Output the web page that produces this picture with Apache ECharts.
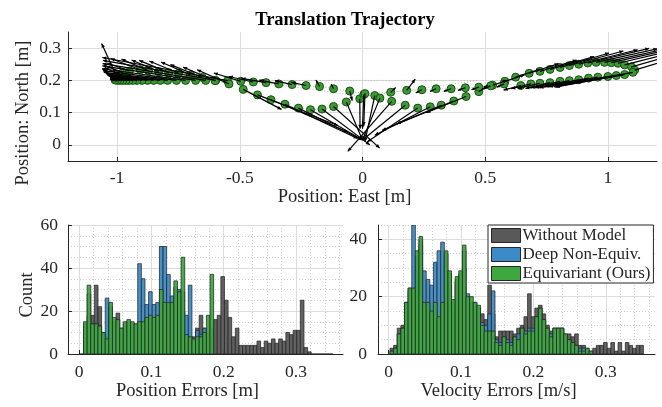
<!DOCTYPE html>
<html><head><meta charset="utf-8">
<script src="https://cdn.jsdelivr.net/npm/echarts@6/dist/echarts.min.js"></script>
<style>html,body{margin:0;padding:0;background:#fff}#c{width:662px;height:407px}</style>
</head><body><div id="c"></div>
<script>
// ---------- Trajectory (top) ----------
const trajEast = [
 -0.486,-0.428,-0.373,-0.316,-0.261,-0.212,-0.165,-0.118,-0.066,-0.011,0.005,0.050,0.071,0.119,0.174,0.225,0.276,0.321,0.372,0.422,0.474,
 0.530,0.580,0.624,0.679,0.723,0.764,0.805,0.843,0.881,0.918,0.952,0.986,1.014,1.041,1.068,1.096,1.109,
 1.102,1.068,1.034,1.000,0.959,0.921,0.881,0.843,0.805,0.764,0.723,0.686,0.645,
 0.577,0.522,0.474,0.419,0.361,0.300,0.242,0.180,0.115,0.010,-0.052,-0.118,-0.175,-0.230,-0.287,-0.341,-0.393,-0.445,-0.496,
 -0.550,-0.598,-0.639,-0.680,-0.721,-0.758,-0.794,-0.824,-0.851,-0.876,-0.899,-0.919,-0.936,-0.951,-0.964,-0.977,-0.988,-0.999,-1.008,
 -1.010,-1.003,-0.990,-0.975,-0.950,-0.906,-0.872,-0.831,-0.790,-0.749,-0.701,-0.653,-0.601,-0.544
];
const trajNorth = [
 0.172,0.155,0.140,0.126,0.114,0.109,0.111,0.119,0.133,0.143,0.156,0.153,0.145,0.135,0.123,0.114,0.118,0.123,0.136,0.150,0.165,
 0.185,0.197,0.210,0.222,0.228,0.234,0.240,0.246,0.250,0.254,0.256,0.256,0.255,0.253,0.248,0.242,0.232,
 0.225,0.218,0.215,0.212,0.210,0.207,0.202,0.199,0.197,0.193,0.191,0.189,0.184,
 0.189,0.183,0.179,0.177,0.174,0.174,0.171,0.169,0.163,0.159,0.167,0.174,0.181,0.184,0.187,0.189,0.193,0.195,0.197,
 0.199,0.200,0.200,0.200,0.200,0.200,0.200,0.200,0.200,0.200,0.200,0.200,0.200,0.200,0.200,0.200,0.200,0.200,0.201,
 0.207,0.214,0.219,0.224,0.229,0.233,0.230,0.227,0.224,0.222,0.217,0.209,0.199,0.189
];
const arrowEast = [
 0.156,0.328,0.313,0.296,0.261,0.212,0.195,0.188,0.066,0.001,-0.005,-0.040,-0.071,-0.179,-0.174,-0.205,-0.226,-0.241,-0.232,-0.162,0.036,
 0.06,0.08,0.10,0.12,0.15,0.18,0.20,0.22,0.24,0.25,0.25,0.24,0.22,0.20,0.18,0.15,0.13,
 -0.30,-0.28,-0.25,-0.22,-0.20,-0.18,-0.16,-0.14,-0.12,-0.10,-0.09,-0.08,-0.07,
 -0.030,-0.030,-0.030,-0.030,-0.030,-0.025,-0.025,0.035,0.020,-0.005,0.010,-0.010,-0.015,-0.060,-0.070,-0.080,-0.100,-0.100,-0.110,
 -0.51,-0.46,-0.42,-0.38,-0.34,-0.30,-0.26,-0.22,-0.19,-0.16,-0.13,-0.11,-0.09,-0.07,-0.06,-0.05,-0.04,-0.03,-0.02,
 -0.05,-0.06,-0.06,-0.07,-0.09,-0.12,-0.11,-0.11,-0.12,-0.12,-0.12,-0.13,-0.13,-0.13
];
const arrowNorth = [
 -0.062,-0.095,-0.100,-0.106,-0.099,-0.094,-0.111,-0.129,-0.118,-0.093,-0.106,-0.143,-0.130,-0.155,-0.108,-0.104,-0.088,-0.078,-0.071,-0.050,0.020,
 0.015,0.020,0.025,0.030,0.035,0.040,0.045,0.045,0.045,0.045,0.042,0.040,0.038,0.036,0.035,0.032,0.030,
 -0.040,-0.038,-0.035,-0.032,-0.030,-0.027,-0.025,-0.022,-0.020,-0.018,-0.016,-0.015,-0.014,
 -0.010,-0.010,-0.008,-0.008,-0.008,-0.008,-0.010,0.035,0.015,-0.100,-0.030,0.015,0.020,0.010,0.012,0.012,0.013,0.017,0.026,
 0.072,0.062,0.052,0.045,0.036,0.030,0.025,0.020,0.017,0.014,0.012,0.010,0.008,0.007,0.006,0.005,0.004,0.003,0.002,
 0.030,0.100,0.020,0.020,0.025,0.035,0.036,0.036,0.038,0.038,0.040,0.040,0.042,0.044
];
const refEast = [-0.47, 0.0, 0.47, -0.47];
const refNorth = [0.200, 0.150, 0.200, 0.200];

const eastTicks = [-1, -0.5, 0, 0.5, 1];
const northTicks = [0, 0.1, 0.2, 0.3];

// ---------- Histograms ----------
const seriesNames = ['Without Model', 'Deep Non-Equiv.', 'Equivariant (Ours)'];
const posBinStart = 0.001, posBinWidth = 0.005;
const posWithoutModel = [0,10,18,18,32,22,10,8,18,14,19,10,12,14,13,12,12,14,15,15,16,15,20,18,20,18,20,22,20,9,8,8,12,18,12,10,12,16,18,36,25,17,8,12,4,4,4,4,4,6,3,6,5,7,5,7,6,10,9,11,11,25,3,1,0,0,0,0,0,0];
const posDeepNonEquiv = [0,14,28,14,14,13,8,26,22,15,16,12,14,15,14,14,42,35,23,29,23,24,50,50,37,27,31,30,29,18,32,6,11,9,12,0,0,0,0,0,0,0,0,0,0,0,0,0,0,0,0,0,0,0,0,0,0,0,0,0,0,0,0,0,0,0,0,0,0,0];
const posEquivariant = [0,15,32,14,14,13,10,7,24,17,16,12,15,16,15,14,15,15,17,18,17,18,30,24,24,24,34,29,45,9,8,7,8,8,10,18,37,0,0,0,0,0,0,0,0,0,0,0,0,0,0,0,0,0,0,0,0,0,0,0,0,0,0,0,0,0,0,0,0,0];

const velBinStart = 0.002, velBinWidth = 0.005;
const velWithoutModel = [2,3,9,10,18,23,20,30,38,17,17,14,16,13,17,28,24,17,25,27,30,19,18,17,16,14,12,24,14,6,8,8,8,8,7,9,10,13,21,13,16,17,14,10,8,9,9,9,7,7,6,7,3,3,2,1,2,3,3,4,2,4,1,4,1,4,3,2,3,3];
const velDeepNonEquiv = [1,2,7,9,18,22,45,34,40,29,26,24,32,36,39,35,28,18,26,28,36,21,18,18,16,11,10,14,22,5,4,6,5,4,6,7,9,8,9,9,13,16,12,9,7,9,9,9,6,5,4,3,2,2,1,0,0,0,0,0,0,0,0,0,0,0,0,0,0,0];
const velEquivariant = [1,2,7,9,18,23,23,36,41,18,18,15,18,13,18,36,29,19,27,29,38,20,20,18,17,10,8,8,8,4,3,6,4,3,6,5,9,7,8,8,13,16,12,9,6,9,9,9,7,5,4,3,1,1,2,1,0,0,0,0,0,0,0,0,0,0,0,0,0,0];

const errTicks = [0, 0.1, 0.2, 0.3];
const errMinorTicks = [0.02,0.04,0.06,0.08,0.12,0.14,0.16,0.18,0.22,0.24,0.26,0.28,0.32,0.34,0.36];
const posCountTicks = [0, 20, 40, 60];
const posCountMinor = [5,10,15,25,30,35,45,50,55];
const velCountTicks = [0, 20, 40];
const velCountMinor = [5,10,15,25,30,35,45];

// ---------- styling ----------
const FONT = "'Liberation Serif','DejaVu Serif',serif";
const INK = '#262626';
const GRID = '#dcdcdc';
const colors = ['#595959', '#3d8bc6', '#3ea83e'];

function mainAxis(gridIndex, min, max, ticks, labelMargin, name, nameGap, namePad) {
  return {
    type: 'value', gridIndex, min, max,
    name, nameLocation: 'middle', nameGap,
    nameTextStyle: {fontFamily: FONT, fontSize: 18.5, color: INK, padding: namePad},
    axisLine: {show: true, onZero: false, lineStyle: {color: INK, width: 1}},
    axisTick: {show: true, inside: true, length: 4, customValues: ticks, lineStyle: {color: INK}},
    axisLabel: {show: true, customValues: ticks, margin: labelMargin, fontFamily: FONT, fontSize: 17.5, color: INK},
    splitLine: {show: true, lineStyle: {color: GRID, width: 1}},
    z: 1
  };
}
function minorAxis(gridIndex, min, max, ticks) {
  return {
    type: 'value', gridIndex, min, max,
    axisLine: {show: false}, axisLabel: {show: false},
    axisTick: {show: false, customValues: ticks},
    splitLine: {show: true, lineStyle: {color: '#cfcfcf', width: 1, type: [1, 2]}},
    z: 0
  };
}

function histItems(start, width, counts, keepZero) {
  const out = [];
  counts.forEach((c, i) => {
    if (c > 0 || keepZero) out.push([start + i * width, start + (i + 1) * width, c]);
  });
  return out;
}
function histSeries(name, color, xi, yi, start, width, counts, keepZero, z) {
  return {
    type: 'custom', name, xAxisIndex: xi, yAxisIndex: yi, clip: true, z,
    itemStyle: {color, borderColor: INK, borderWidth: 1},
    encode: {x: [0, 1], y: 2},
    data: histItems(start, width, counts, keepZero),
    renderItem: function (params, api) {
      const p0 = api.coord([api.value(0), api.value(2)]);
      const p1 = api.coord([api.value(1), 0]);
      return {type: 'rect',
        shape: {x: p0[0], y: p0[1], width: p1[0] - p0[0], height: p1[1] - p0[1]},
        style: {fill: color, stroke: INK, lineWidth: 0.8, opacity: 0.95}};
    }
  };
}
function yName(text, x, y) {
  return {type: 'text', x, y, rotation: Math.PI / 2, silent: true,
    style: {text, fill: INK, font: '18.5px ' + FONT, align: 'center', verticalAlign: 'middle'}};
}

const trajData = trajEast.map((e, i) => [e, trajNorth[i]]);
const arrowData = trajEast.map((e, i) => [e, trajNorth[i], arrowEast[i], arrowNorth[i]]);
const refData = refEast.map((e, i) => [e, refNorth[i]]);

const option = {
  animation: false,
  backgroundColor: '#ffffff',
  title: {text: 'Translation Trajectory', left: 340, top: 6, textAlign: 'center',
    textStyle: {fontFamily: FONT, fontSize: 18.5, fontWeight: 'bold', color: '#000'}},
  graphic: [
    yName('Position: North [m]', 23, 113),
    yName('Count', 27, 295)
  ],
  legend: {
    data: seriesNames, orient: 'vertical', left: 488, top: 225,
    icon: 'rect', itemWidth: 29, itemHeight: 14, itemGap: 2,
    backgroundColor: '#fff', borderColor: INK, borderWidth: 1, padding: [2, 3, 1, 3],
    textStyle: {fontFamily: FONT, fontSize: 17, color: INK, padding: [0, 0, 0, -3]},
    itemStyle: {borderColor: INK, borderWidth: 1}
  },
  grid: [
    {left: 68, top: 32, width: 589, height: 129},
    {left: 68, top: 225, width: 275, height: 129},
    {left: 378, top: 225, width: 277, height: 129}
  ],
  xAxis: [
    mainAxis(0, -1.2, 1.2, eastTicks, 8, 'Position: East [m]', 27, [0, 36, 0, 0]),
    mainAxis(1, -0.0155, 0.365, errTicks, 9, 'Position Errors [m]', 28, [0, 36, 0, 0]),
    minorAxis(1, -0.0155, 0.365, errMinorTicks),
    mainAxis(2, -0.0146, 0.368, errTicks, 9, 'Velocity Errors [m/s]', 28, [0, 36, 0, 0]),
    minorAxis(2, -0.0146, 0.368, errMinorTicks)
  ],
  yAxis: [
    mainAxis(0, -0.05, 0.35, northTicks, 7, '', 34, 0),
    mainAxis(1, 0, 60, posCountTicks, 10, '', 32, 0),
    minorAxis(1, 0, 60, posCountMinor),
    mainAxis(2, 0, 45, velCountTicks, 11, '', 30, 0),
    minorAxis(2, 0, 45, velCountMinor)
  ],
  series: [
    {type: 'line', xAxisIndex: 0, yAxisIndex: 0, data: refData, showSymbol: false, silent: true, z: 2,
      lineStyle: {color: '#b8b8b8', width: 1, type: [1, 2]}},
    {type: 'line', xAxisIndex: 0, yAxisIndex: 0, data: trajData, showSymbol: false, silent: true, z: 2,
      lineStyle: {color: '#b8b8b8', width: 1, type: [1, 2]}},
    {type: 'scatter', xAxisIndex: 0, yAxisIndex: 0, data: trajData, symbol: 'circle', symbolSize: 8, z: 3,
      itemStyle: {color: '#3b9a32', borderColor: '#1c4f18', borderWidth: 1, opacity: 1}},
    {type: 'custom', xAxisIndex: 0, yAxisIndex: 0, data: arrowData, clip: true, z: 4, encode: {x: 0, y: 1},
      renderItem: function (params, api) {
        const x = api.value(0), y = api.value(1), u = api.value(2), v = api.value(3);
        const p0 = api.coord([x, y]), p1 = api.coord([x + u, y + v]);
        const dx = p1[0] - p0[0], dy = p1[1] - p0[1];
        const L = Math.hypot(dx, dy) || 1;
        const ux = dx / L, uy = dy / L;
        const h = Math.min(4, L * 0.4), w = h * 0.45;
        const bx = p1[0] - ux * h, by = p1[1] - uy * h;
        return {type: 'group', children: [
          {type: 'line', shape: {x1: p0[0], y1: p0[1], x2: p1[0], y2: p1[1]}, style: {stroke: '#000', lineWidth: 1.2}},
          {type: 'polygon', shape: {points: [[p1[0], p1[1]], [bx - uy * w, by + ux * w], [bx + uy * w, by - ux * w]]}, style: {fill: '#000'}}
        ]};
      }},
    histSeries(seriesNames[0], colors[0], 1, 1, posBinStart, posBinWidth, posWithoutModel, true, 5),
    histSeries(seriesNames[1], colors[1], 1, 1, posBinStart, posBinWidth, posDeepNonEquiv, false, 6),
    histSeries(seriesNames[2], colors[2], 1, 1, posBinStart, posBinWidth, posEquivariant, false, 7),
    histSeries(seriesNames[0], colors[0], 3, 3, velBinStart, velBinWidth, velWithoutModel, true, 5),
    histSeries(seriesNames[1], colors[1], 3, 3, velBinStart, velBinWidth, velDeepNonEquiv, false, 6),
    histSeries(seriesNames[2], colors[2], 3, 3, velBinStart, velBinWidth, velEquivariant, false, 7)
  ]
};
const chart = echarts.init(document.getElementById('c'), null, {renderer: 'canvas'});
chart.setOption(option);
</script></body></html>
